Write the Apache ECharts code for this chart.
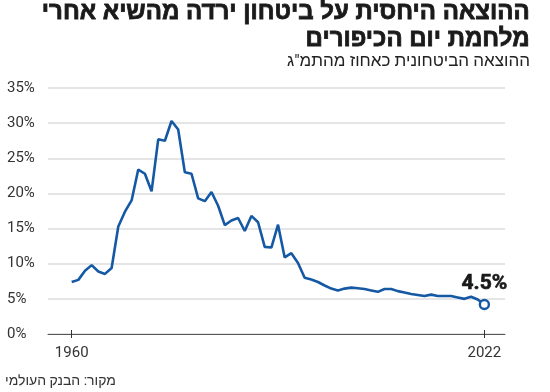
<!DOCTYPE html>
<html>
<head>
<meta charset="utf-8">
<script src="https://cdn.jsdelivr.net/npm/echarts@6/dist/echarts.min.js"></script>
<style>
html,body{margin:0;padding:0;background:#fff;}
#chart{width:550px;height:392px;}
</style>
</head>
<body>
<div id="chart"></div>
<script>
const titleLine1 = 'ההוצאה היחסית על ביטחון ירדה מהשיא אחרי';
const titleLine2 = 'מלחמת יום הכיפורים';
const subtitle = 'ההוצאה הביטחונית כאחוז מהתמ"ג';
const sourceText = 'מקור: הבנק העולמי';
const endLabel = '4.5%';

const years = [1960,1961,1962,1963,1964,1965,1966,1967,1968,1969,
  1970,1971,1972,1973,1974,1975,1976,1977,1978,1979,
  1980,1981,1982,1983,1984,1985,1986,1987,1988,1989,
  1990,1991,1992,1993,1994,1995,1996,1997,1998,1999,
  2000,2001,2002,2003,2004,2005,2006,2007,2008,2009,
  2010,2011,2012,2013,2014,2015,2016,2017,2018,2019,
  2020,2021,2022];
const values = [7.4,7.7,9.0,9.8,8.9,8.55,9.4,15.3,17.4,19.0,
  23.4,22.8,20.3,27.7,27.5,30.3,29.1,23.0,22.8,19.3,
  18.9,20.2,18.25,15.5,16.15,16.5,14.65,16.8,15.9,12.4,
  12.3,15.55,10.9,11.5,10.1,8.0,7.75,7.4,6.9,6.46,
  6.2,6.46,6.6,6.5,6.4,6.2,6.0,6.4,6.4,6.1,
  5.9,5.7,5.55,5.4,5.6,5.4,5.4,5.4,5.2,5.0,
  5.3,4.9,4.2];
const xTickYears = [1960, 2022];

const lineData = years.map((y, i) => [y, values[i]]);
const lastIdx = years.length - 1;
const blue = '#1559a4';
const fontCond = "'Liberation Sans Narrow','Roboto','Liberation Sans',sans-serif";
const titleFont = "'Liberation Sans','DejaVu Sans',sans-serif";
const xMin = 1956.44, xMax = 2025.1;

const chart = echarts.init(document.getElementById('chart'), null, {renderer: 'canvas'});
chart.setOption({
  animation: false,
  grid: {left: 48, right: 45, top: 88, bottom: 58},
  xAxis: [{
    type: 'value', min: xMin, max: xMax,
    axisLine: {show: true, lineStyle: {color: '#555', width: 1}},
    axisTick: {show: true, customValues: xTickYears, length: 4, lineStyle: {color: '#333', width: 1}},
    axisLabel: {show: true, customValues: xTickYears, margin: 12, color: '#333', fontSize: 15, fontFamily: fontCond,
      formatter: v => String(v)},
    splitLine: {show: false}
  }, {
    type: 'value', min: xMin, max: xMax, position: 'bottom',
    axisLine: {show: false},
    axisTick: {show: true, inside: true, customValues: xTickYears, length: 4, lineStyle: {color: '#333', width: 1}},
    axisLabel: {show: false},
    splitLine: {show: false}
  }],
  yAxis: {
    type: 'value', min: 0, max: 35, interval: 5,
    axisLine: {show: false}, axisTick: {show: false},
    axisLabel: {align: 'left', margin: 41, color: '#333', fontSize: 15, fontFamily: fontCond,
      formatter: v => v + '%'},
    splitLine: {show: true, lineStyle: {color: '#dcdcdc', width: 1.5}}
  },
  series: [{
    type: 'line', data: lineData, symbol: 'none',
    lineStyle: {color: blue, width: 2.6}, z: 3
  }, {
    type: 'scatter', data: [lineData[lastIdx]], symbol: 'circle', symbolSize: 9,
    itemStyle: {color: '#ffffff', opacity: 1, borderColor: blue, borderWidth: 2.4}, z: 4,
    emphasis: {disabled: true},
    label: {show: true, position: 'top', distance: 5, formatter: () => endLabel,
      fontSize: 21, fontWeight: 'bold', color: '#1a1a1a', fontFamily: fontCond,
      textBorderColor: '#1a1a1a', textBorderWidth: 0.6}
  }],
  graphic: [
    {type: 'text', right: 20, top: 0, style: {text: titleLine1, fontSize: 24, fontWeight: 'bold',
      fontFamily: titleFont, fill: '#1a1a1a', stroke: '#1a1a1a', lineWidth: 0.8, textAlign: 'right'}},
    {type: 'text', right: 20, top: 27, style: {text: titleLine2, fontSize: 24, fontWeight: 'bold',
      fontFamily: titleFont, fill: '#1a1a1a', stroke: '#1a1a1a', lineWidth: 0.8, textAlign: 'right'}},
    {type: 'text', right: 20, top: 53, style: {text: subtitle, fontSize: 17, fontWeight: 'normal',
      fontFamily: fontCond, fill: '#222', textAlign: 'right'}},
    {type: 'text', left: 5, top: 374, style: {text: sourceText, fontSize: 14,
      fontFamily: fontCond, fill: '#333'}}
  ]
});
</script>
</body>
</html>
